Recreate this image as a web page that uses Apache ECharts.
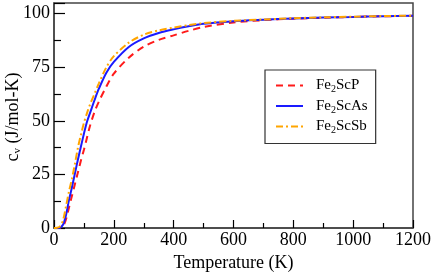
<!DOCTYPE html>
<html><head><meta charset="utf-8">
<script src="https://cdn.jsdelivr.net/npm/echarts@6/dist/echarts.min.js"></script>
<style>html,body{margin:0;padding:0;background:#fff}#c{width:436px;height:273px}</style>
</head><body><div id="c"></div>
<script>
var temps = [0,10,20,30,40,50,60,70,80,90,100,110,120,135,150,175,200,250,300,350,400,450,500,600,700,800,900,1000,1100,1200];
var cvP  = [0,0,0.1,0.8,4,9.5,15,20.5,26,31.5,36.5,42,47.5,54,59,66,72,79.5,84.6,87.8,89.9,92,93.8,95.9,97,97.7,98.1,98.5,98.8,99];
var cvAs = [0,0,0.2,1.5,6,13,19,25.5,32,38,44,49.5,53.5,59.5,65,72.5,77.5,84.5,88.5,91,92.7,94.1,95.3,96.5,97.2,97.8,98.2,98.5,98.8,99];
var cvSb = [0,0.1,0.8,3.5,10,17,23,30,37.5,43.5,49,53.5,57.5,62.5,67.5,75,80.2,86.5,90.2,92.2,93.5,94.7,95.6,96.7,97.3,97.9,98.3,98.6,98.9,99.1];
var names = ['Fe2ScP','Fe2ScAs','Fe2ScSb'];
var xTicks = [0,200,400,600,800,1000,1200];
var yTicks = [0,25,50,75,100];

function pairs(v){ return temps.map(function(t,i){return [t,v[i]];}); }
var FONT = 'Liberation Serif';
var chart = echarts.init(document.getElementById('c'), null, {renderer:'canvas'});
function mk(name, vals, color, type){
  return {name:name, type:'line', data:pairs(vals), showSymbol:false, symbol:'none', smooth:0.3,
    lineStyle:{color:color, width:2, type:type}, itemStyle:{color:color}};
}
chart.setOption({
  animation:false,
  grid:{left:54, right:23, top:3, bottom:45, show:true, borderColor:'#444', borderWidth:1.5,
    containLabel:false, outerBoundsMode:'none'},
  graphic:[{type:'text', x:13, y:117, rotation:Math.PI/2,
    style:{text:'{a|c}{s|v}{a| (J/mol-K)}', align:'center', verticalAlign:'middle',
      fontFamily:FONT, fontSize:18, fill:'#000',
      rich:{a:{fontFamily:FONT, fontSize:18, fill:'#000', lineHeight:20, verticalAlign:'middle'},
            s:{fontFamily:FONT, fontSize:11, fill:'#000', verticalAlign:'bottom', padding:[9,0,0,0]}}}}],
  xAxis:{type:'value', min:0, max:1200, interval:200,
    name:'Temperature (K)', nameLocation:'middle', nameGap:23,
    nameTextStyle:{fontFamily:FONT, fontSize:18, color:'#000'},
    axisLine:{lineStyle:{color:'#444', width:1.5}},
    axisTick:{inside:true, length:8, lineStyle:{color:'#000', width:1.2}},
    minorTick:{show:true, splitNumber:2, length:5, lineStyle:{color:'#000', width:1.2}},
    splitLine:{show:false},
    axisLabel:{fontFamily:FONT, fontSize:18, color:'#000', margin:3,
      formatter:function(v){return xTicks.indexOf(v)>=0 ? String(v) : '';}}
  },
  yAxis:{type:'value', min:0, max:105, interval:25,
    axisLine:{lineStyle:{color:'#444', width:1.5}},
    axisTick:{inside:true, length:11, lineStyle:{color:'#000', width:1.2}},
    minorTick:{show:true, splitNumber:2, length:7, lineStyle:{color:'#000', width:1.2}},
    splitLine:{show:false},
    axisLabel:{fontFamily:FONT, fontSize:18, color:'#000', margin:4,
      formatter:function(v){return yTicks.indexOf(v)>=0 ? String(v) : '';}}
  },
  legend:{orient:'vertical', left:265, top:70, padding:[8,8,8,10], itemGap:4,
    itemWidth:27, itemHeight:18, borderColor:'#333', borderWidth:1.2, backgroundColor:'#fff',
    data:names, itemStyle:{opacity:0},
    formatter:function(n){ return '{a|Fe}{s|2}{a|' + n.slice(3) + '}'; },
    textStyle:{fontFamily:FONT, fontSize:15, color:'#000', padding:[0,0,0,8],
      rich:{a:{fontFamily:FONT, fontSize:15, color:'#000', lineHeight:18, verticalAlign:'middle'},
            s:{fontFamily:FONT, fontSize:10, color:'#000', verticalAlign:'bottom', padding:[8,0,0,0]}}}
  },
  series:[
    mk(names[0], cvP, '#ff1a1a', [7,5]),
    mk(names[1], cvAs, '#1a1aff', 'solid'),
    mk(names[2], cvSb, '#ffa500', [7,3,2,3])
  ]
});
</script></body></html>
